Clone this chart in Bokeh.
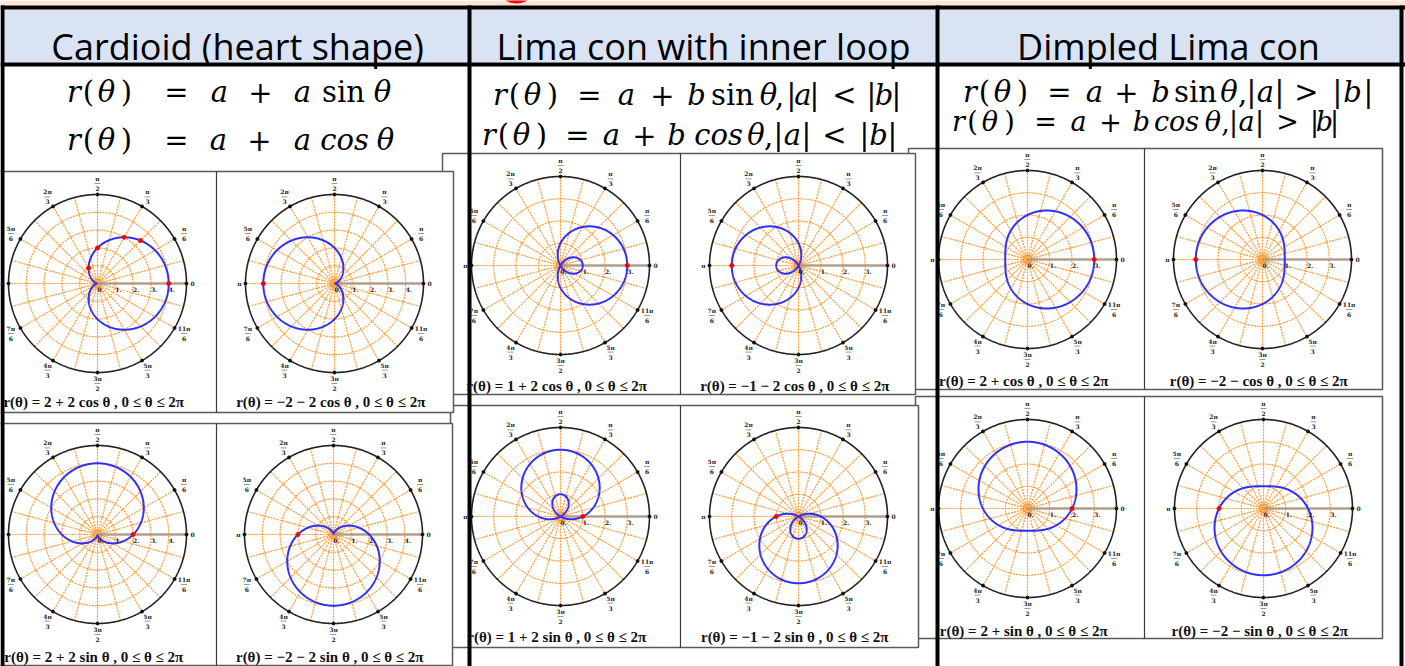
import numpy as np
from bokeh.plotting import figure
from bokeh.models import Range1d
from bokeh.embed import file_html
from bokeh.resources import INLINE
from bokeh.core.properties import value

# ---------------- data ----------------
headers = ["Cardioid (heart shape)", "Lima con with inner loop", "Dimpled Lima con"]
# equation lines, split into tokens (math typesetting)
eq_tokens = [
    ["r", "(", "θ", ")", "=", "a", "+", "a", "sin", "θ"],
    ["r", "(", "θ", ")", "=", "a", "+", "a", "cos", "θ"],
    ["r", "(", "θ", ")", "=", "a", "+", "b", "sin", "θ", ",", "|", "a", "|", "<", "|", "b", "|"],
    ["r", "(", "θ", ")", "=", "a", "+", "b", "cos", "θ", ",", "|", "a", "|", "<", "|", "b", "|"],
    ["r", "(", "θ", ")", "=", "a", "+", "b", "sin", "θ", ",", "|", "a", "|", ">", "|", "b", "|"],
    ["r", "(", "θ", ")", "=", "a", "+", "b", "cos", "θ", ",", "|", "a", "|", ">", "|", "b", "|"],
]
upright_tokens = {"(", ")", "=", "+", "<", ">", ",", "|", "sin"}

# twelve polar panels: r(θ) = a + b·trig(θ)
coef_a = [2, -2, 2, -2, 1, -1, 1, -1, 2, -2, 2, -2]
coef_b = [2, -2, 2, -2, 2, -2, 2, -2, 1, -1, 1, -1]
trig = ["cos", "cos", "sin", "sin", "cos", "cos", "sin", "sin", "cos", "cos", "sin", "sin"]
r_max = [5, 5, 5, 5, 4, 4, 4, 4, 4, 4, 4, 4]
marked_deg = [[0, 45, 60, 90, 120]] + [[0]] * 11
captions = [
    "r(θ) = 2 + 2 cos θ  ,  0 ≤ θ ≤ 2π", "r(θ) = −2 − 2 cos θ  ,  0 ≤ θ ≤ 2π",
    "r(θ) = 2 + 2 sin θ  ,  0 ≤ θ ≤ 2π", "r(θ) = −2 − 2 sin θ  ,  0 ≤ θ ≤ 2π",
    "r(θ) = 1 + 2 cos θ  ,  0 ≤ θ ≤ 2π", "r(θ) = −1 − 2 cos θ  ,  0 ≤ θ ≤ 2π",
    "r(θ) = 1 + 2 sin θ  ,  0 ≤ θ ≤ 2π", "r(θ) = −1 − 2 sin θ  ,  0 ≤ θ ≤ 2π",
    "r(θ) = 2 + cos θ  ,  0 ≤ θ ≤ 2π", "r(θ) = −2 − cos θ  ,  0 ≤ θ ≤ 2π",
    "r(θ) = 2 + sin θ  ,  0 ≤ θ ≤ 2π", "r(θ) = −2 − sin θ  ,  0 ≤ θ ≤ 2π",
]
angle_num = ["0", "π", "π", "π", "2π", "5π", "π", "7π", "4π", "3π", "5π", "11π"]
angle_den = ["", "6", "3", "2", "3", "6", "", "6", "3", "2", "3", "6"]

# ---------------- layout (reference pixel coordinates) ----------------
X0, X1, Y0, Y1 = 0, 1405, 0, 666
R = 89
centers = [(97, 283), (334, 283), (97, 534), (333, 534),
           (560, 265), (798, 265), (560, 516), (798, 516),
           (1027, 259), (1262, 259), (1027, 508), (1263, 508)]
caption_y = [401, 401, 656, 656, 385, 385, 636, 636, 380, 380, 630, 630]
boxes = [  # x0, x1, y0, y1, separator (drawing order)
    (908, 1382, 148, 389, 1144), (915, 1382, 396, 638, 1144),
    (442, 915, 153, 394, 680), (450, 918, 405, 647, 680),
    (-10, 453, 171, 412, 216), (-10, 452, 423, 665, 216),
]
col_center = [237, 703, 1168]
# token centres (x) and line centres (y) of the equations
eq_x = [
    [73.5, 88, 106, 126, 176, 219, 260, 302, 343, 382],
    [73.5, 88, 106, 126, 176, 218, 259, 302, 344, 385],
    [499.5, 514, 532, 552, 589, 626, 662, 696, 732, 768, 779, 791, 802.5, 814, 844, 871, 883.5, 896],
    [488.5, 503, 521, 541, 577, 611, 644, 676, 718, 755.5, 768, 778, 792, 806, 834, 864, 878, 892],
    [969.5, 984, 1002, 1022, 1059, 1094, 1126, 1160, 1195, 1228.5, 1242, 1251, 1265, 1279, 1306,
     1337, 1352, 1368],
    [958, 972, 989.5, 1009, 1045, 1078, 1110, 1141, 1176, 1212.5, 1225, 1233, 1246, 1259, 1287,
     1314, 1324, 1334],
]
eq_y = [91, 139, 94, 134, 91, 121]
eq_size = [29, 29, 29, 29, 29, 27]

ORANGE = "#ff9a33"
BLUE = "#2f2fff"

p = figure(width=X1 - X0, height=Y1 - Y0, x_range=Range1d(X0, X1), y_range=Range1d(Y1, Y0),
           output_backend="svg", toolbar_location=None, min_border=0,
           x_axis_location=None, y_axis_location=None)
p.grid.visible = False
p.outline_line_color = None
p.background_fill_color = "white"
p.border_fill_color = "white"

# header band
p.quad(left=[0], right=[1405], top=[0], bottom=[5], fill_color="#fbe5d6", line_color=None)
p.ellipse(x=[516], y=[-3], width=24, height=12, fill_color="#ff0000", line_color=None)
p.quad(left=[0], right=[1405], top=[9], bottom=[62], fill_color="#dae3f3", line_color=None)
p.text(x=col_center, y=[46, 46, 46], text=headers, text_font=value("Open Sans"),
       text_font_size="36px", text_align="center", text_baseline="alphabetic", text_color="black")

# equations
for li, toks in enumerate(eq_tokens):
    for style, sel in (("italic", False), ("normal", True)):
        idx = [k for k in range(len(toks)) if (toks[k] in upright_tokens) == sel]
        if not idx:
            continue
        p.text(x=[eq_x[li][k] for k in idx], y=[eq_y[li]] * len(idx), text=[toks[k] for k in idx],
               text_font=value("DejaVu Serif"), text_font_style=style,
               text_font_size=f"{eq_size[li]}px", text_align="center", text_baseline="middle",
               text_color="black")

# picture frames
for (bx0, bx1, by0, by1, sep) in boxes:
    p.quad(left=[bx0], right=[bx1], top=[by0], bottom=[by1], fill_color="white",
           line_color="#5a5a5a", line_width=1.5)
    p.segment(x0=[sep], y0=[by0], x1=[sep], y1=[by1], line_color="#3a3a3a", line_width=1.2)

# ranges for each panel
xr, yr = {}, {}
for i, (cx, cy) in enumerate(centers):
    s = R / r_max[i]
    xr[f"px{i}"] = Range1d((X0 - cx) / s, (X1 - cx) / s)
    yr[f"py{i}"] = Range1d((cy - Y1) / s, (cy - Y0) / s)
p.extra_x_ranges = xr
p.extra_y_ranges = yr

t = np.linspace(0, 2 * np.pi, 721)
spoke_deg = np.arange(0, 360, 15)
lab_deg = np.arange(0, 360, 30)

for i, (cx, cy) in enumerate(centers):
    s = R / r_max[i]
    rm = r_max[i]
    kw = dict(x_range_name=f"px{i}", y_range_name=f"py{i}")
    radii = list(range(1, rm)) + [5.0 / s, 2.5 / s]
    p.multi_line(xs=[list(k * np.cos(t)) for k in radii], ys=[list(k * np.sin(t)) for k in radii],
                 line_color=ORANGE, line_width=1.2, line_dash="2 1", **kw)
    sr = np.radians(spoke_deg)
    p.multi_line(xs=[[0, rm * np.cos(a)] for a in sr], ys=[[0, rm * np.sin(a)] for a in sr],
                 line_color=ORANGE, line_width=1.2, line_dash="2 1", **kw)
    p.line(x=[0, rm], y=[0, 0], line_color="#a89886", line_width=2.5, line_alpha=0.9, **kw)
    p.line(x=rm * np.cos(t), y=rm * np.sin(t), line_color="#222222", line_width=1.6, **kw)
    lr = np.radians(lab_deg)
    p.scatter(x=rm * np.cos(lr), y=rm * np.sin(lr), size=3, color="#111111", **kw)
    # curve
    f = np.cos(t) if trig[i] == "cos" else np.sin(t)
    r = coef_a[i] + coef_b[i] * f
    p.line(x=r * np.cos(t), y=r * np.sin(t), line_color=BLUE, line_width=2, **kw)
    md = np.radians(np.array(marked_deg[i], dtype=float))
    fm = np.cos(md) if trig[i] == "cos" else np.sin(md)
    rmk = coef_a[i] + coef_b[i] * fm
    p.scatter(x=rmk * np.cos(md), y=rmk * np.sin(md), size=4, color="red", **kw)
    # radial tick labels
    ks = list(range(0, rm))
    p.text(x=ks, y=[0] * len(ks), text=[f"{k}." for k in ks], text_font=value("DejaVu Serif"),
           text_font_style="bold", text_font_size="6px", text_align="left", text_baseline="top",
           y_offset=3, text_color="#222222", **kw)
    # angle labels
    rs = (R + 6) / s
    rl = (R + 11) / s
    for j, d in enumerate(lab_deg):
        a = np.radians(d)
        if angle_den[j] == "":
            p.text(x=[rs * np.cos(a)], y=[rs * np.sin(a)], text=[angle_num[j]],
                   text_font=value("DejaVu Serif"), text_font_style="bold", text_font_size="6px",
                   text_align="center", text_baseline="middle", text_color="#222222", **kw)
        else:
            lx, ly = rl * np.cos(a), rl * np.sin(a)
            p.text(x=[lx, lx], y=[ly, ly], text=[angle_num[j], angle_den[j]],
                   text_font=value("DejaVu Serif"), text_font_style="bold", text_font_size="6px",
                   text_align="center", text_baseline="middle", y_offset=[-5, 5],
                   text_color="#222222", **kw)
            p.segment(x0=[lx - 3 / s], y0=[ly], x1=[lx + 3 / s], y1=[ly], line_color="#999999",
                      line_width=1, **kw)

# captions
p.text(x=[c[0] for c in centers], y=caption_y, text=captions, text_font=value("Liberation Serif"),
       text_font_style="bold", text_font_size="15px", text_align="center", text_baseline="middle",
       text_color="#111111")

# table rules (on top)
p.quad(left=[0], right=[1405], top=[5], bottom=[9], fill_color="black", line_color=None)
p.quad(left=[0], right=[1405], top=[62], bottom=[66], fill_color="black", line_color=None)
p.quad(left=[0, 467, 935, 1399], right=[4, 471, 939, 1403], top=[5] * 4, bottom=[666] * 4,
       fill_color="black", line_color=None)

open("out.html", "w").write(file_html(p, INLINE))
